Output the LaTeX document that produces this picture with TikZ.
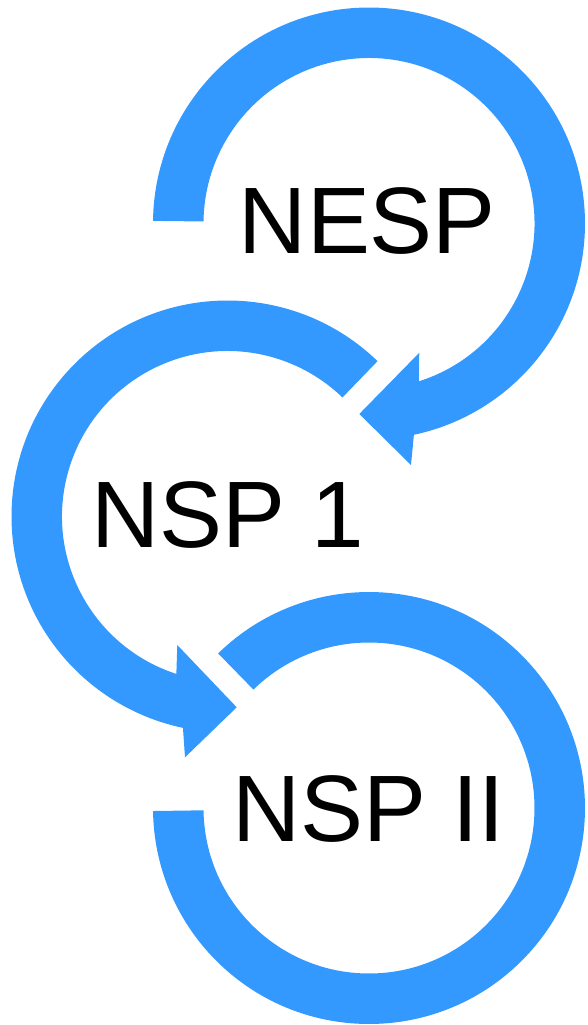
\documentclass[tikz,border=0pt]{standalone}
\usepackage{fontspec}
\setmainfont{Liberation Sans}
\definecolor{cycblue}{RGB}{51,153,255}
\begin{document}
\begin{tikzpicture}[x=0.5pt,y=-0.5pt,
  band/.style={fill=cycblue,draw=none},
  label/.style={inner sep=0pt,anchor=base,text=black,font=\fontsize{47.2}{56}\selectfont}]
\useasboundingbox (0,0) rectangle (588,1025);
\coordinate (T) at (369,223.5);
\coordinate (M) at (227.5,516.5);
\coordinate (B) at (369,808);
% arrowhead points
\coordinate (tb2) at (411,465);
\coordinate (tt) at (359.3,414);
\coordinate (tb1) at (419.3,352.7);
\coordinate (mb2) at (185,757.3);
\coordinate (mt) at (236.7,707.3);
\coordinate (mb1) at (177.3,645);
% top: NESP
\fill[band] ([shift={(180.7:216)}]T) arc[start angle=180.7,end angle=438,radius=216]
  -- (tb2) -- (tt) -- (tb1)
  -- ([shift={(432.5:165.5)}]T) arc[start angle=432.5,end angle=180.7,radius=165.5] -- cycle;
% middle: NSP 1
\fill[band] ([shift={(314:216)}]M) arc[start angle=314,end angle=101.9,radius=216]
  -- (mb2) -- (mt) -- (mb1)
  -- ([shift={(108:165.5)}]M) arc[start angle=108,end angle=314,radius=165.5] -- cycle;
% bottom: NSP II
\fill[band] ([shift={(225.7:216)}]B) arc[start angle=225.7,end angle=539.2,radius=216]
  -- ([shift={(539.2:165.5)}]B) arc[start angle=539.2,end angle=225.7,radius=165.5] -- cycle;
\node[label] (nesp) at (367.4,253.3) {NESP};
\node[label] (nsp1) at (227.5,547.7) {NSP 1};
\node[label] (nsp2) at (368.6,841.7) {NSP II};
\end{tikzpicture}
\end{document}
